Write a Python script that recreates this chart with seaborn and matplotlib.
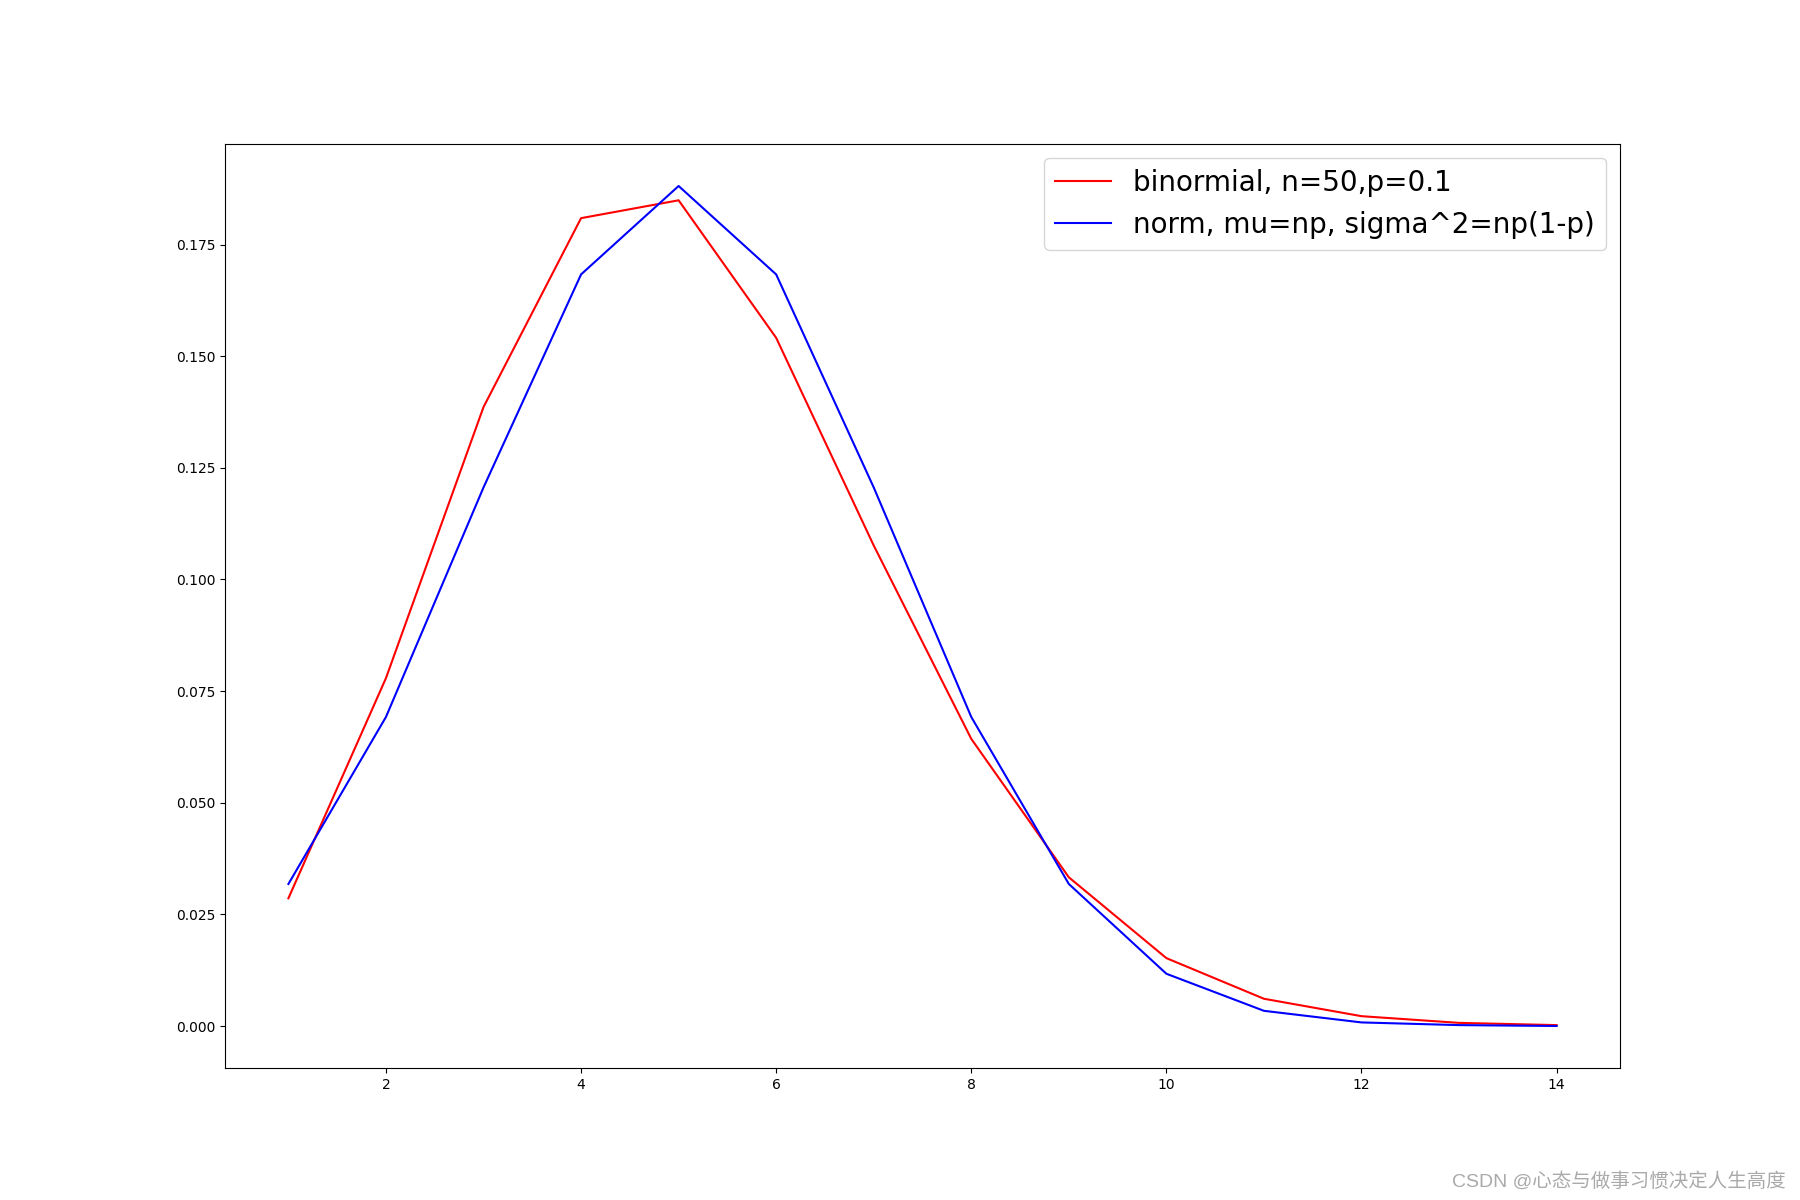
import matplotlib
matplotlib.use("Agg")
import matplotlib.pyplot as plt
import pandas as pd
import seaborn as sns

# x values and the two curves
k = [1, 2, 3, 4, 5, 6, 7, 8, 9, 10, 11, 12, 13, 14]
binom_pmf = [0.0286, 0.0779, 0.1386, 0.1809, 0.1849, 0.1541, 0.1076,
             0.0643, 0.0333, 0.0152, 0.0061, 0.0022, 0.0007, 0.0002]
norm_pdf = [0.0318, 0.0692, 0.1206, 0.1683, 0.1881, 0.1683, 0.1206,
            0.0692, 0.0318, 0.0117, 0.0034, 0.0008, 0.0002, 0.0000]

df = pd.DataFrame({"k": k, "binom": binom_pmf, "norm": norm_pdf})

fig, ax = plt.subplots(figsize=(18, 12), dpi=100)
sns.lineplot(data=df, x="k", y="binom", color="red", ax=ax,
             label="binormial, n=50,p=0.1")
sns.lineplot(data=df, x="k", y="norm", color="blue", ax=ax,
             label="norm, mu=np, sigma^2=np(1-p)")
ax.set_xlabel("")
ax.set_ylabel("")
ax.legend(fontsize=20)

# watermark
fig.text(0.992, 0.008, "CSDN @心态与做事习惯决定人生高度", ha="right", va="bottom",
         fontsize=14, color="#aaaaaa",
         family=["Liberation Sans", "Noto Sans CJK SC", "DejaVu Sans"])

fig.savefig("out.png")
